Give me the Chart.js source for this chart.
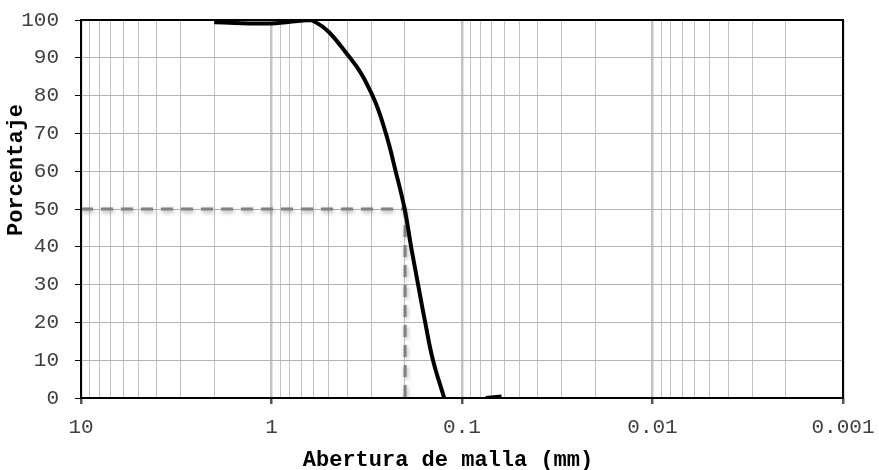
<!DOCTYPE html>
<html>
<head>
<meta charset="utf-8">
<script src="https://cdn.jsdelivr.net/npm/chart.js@4/dist/chart.umd.min.js"></script>
<style>
  body { margin: 0; background: #fff; }
  canvas { display: block; }
</style>
</head>
<body>
<canvas id="granulometria" width="879" height="470"></canvas>
<script>
// abertura de malla (mm) y porcentaje que pasa
const aberturas = [2.0, 1.0, 0.62, 0.387, 0.295, 0.251, 0.223, 0.200, 0.185, 0.170, 0.156, 0.142, 0.124];
const pasa = [99.4, 99.1, 100, 90, 80, 70, 60, 50, 40, 30, 20, 10, 0];

// tramo final cerca de cero
const aberturasFinos = [0.075, 0.062];
const pasaFinos = [0, 0.4];

// D50
const d50 = 0.199;
const porcentajeD50 = 50;

const xTickValues = [10, 1, 0.1, 0.01, 0.001];
const xTickLabels = ['10', '1', '0.1', '0.01', '0.001'];
const yTickLabels = ['0', '10', '20', '30', '40', '50', '60', '70', '80', '90', '100'];

const fontFamily = '"Liberation Mono", "Courier New", monospace';

function isDecade(v) {
  return xTickValues.some(d => Math.abs(v - d) / d < 1e-6);
}

// lineas de grilla: 1..9 por cada decada
const gridValues = [];
for (let e = -3; e <= 1; e++) {
  for (let m = 1; m <= 9; m++) {
    const v = m * Math.pow(10, e);
    if (v <= 10 + 1e-9) gridValues.push(Number(v.toPrecision(6)));
  }
}

const curva = aberturas.map((x, i) => ({ x: x, y: pasa[i] }));
curva.push({ x: 0.1, y: null });
aberturasFinos.forEach((x, i) => curva.push({ x: x, y: pasaFinos[i] }));

const lineaD50 = [
  { x: 10, y: porcentajeD50 },
  { x: d50, y: porcentajeD50 },
  { x: d50, y: 0 }
];

// marco negro, sombra de la linea D50 y titulos de ejes
const marcoYTitulos = {
  id: 'marcoYTitulos',
  beforeDatasetDraw(chart, args) {
    if (args.index === 1) {
      const ctx = chart.ctx;
      ctx.save();
      ctx.shadowColor = 'rgba(110,110,110,0.6)';
      ctx.shadowBlur = 4;
      ctx.shadowOffsetX = 1;
      ctx.shadowOffsetY = 2;
    }
  },
  afterDatasetDraw(chart, args) {
    if (args.index === 1) chart.ctx.restore();
  },
  afterDraw(chart) {
    const { ctx, chartArea: a } = chart;
    ctx.save();
    ctx.strokeStyle = '#000';
    ctx.lineWidth = 2;
    ctx.strokeRect(a.left, a.top, a.right - a.left, a.bottom - a.top);

    ctx.fillStyle = '#000';
    ctx.font = 'bold 22px ' + fontFamily;
    ctx.textAlign = 'center';
    ctx.textBaseline = 'middle';
    ctx.fillText('Abertura de malla (mm)', 448, 460);

    ctx.translate(16, 170);
    ctx.rotate(-Math.PI / 2);
    ctx.fillText('Porcentaje', 0, 0);
    ctx.restore();
  }
};

new Chart(document.getElementById('granulometria'), {
  type: 'line',
  data: {
    datasets: [
      {
        data: curva,
        borderColor: '#000',
        borderWidth: 4,
        pointRadius: 0,
        tension: 0.4,
        spanGaps: false
      },
      {
        data: lineaD50,
        borderColor: '#808080',
        borderWidth: 3,
        borderDash: [12, 8],
        pointRadius: 0,
        tension: 0
      }
    ]
  },
  options: {
    responsive: false,
    animation: false,
    layout: { padding: { top: 20, right: 36, left: 0, bottom: 0 } },
    plugins: {
      legend: { display: false },
      tooltip: { enabled: false }
    },
    scales: {
      x: {
        type: 'logarithmic',
        reverse: true,
        min: 0.001,
        max: 10,
        afterBuildTicks(scale) {
          scale.ticks = gridValues.map(v => ({ value: v }));
        },
        afterFit(scale) { scale.height = 72; },
        border: { display: false },
        grid: {
          color: ctx => isDecade(ctx.tick.value) ? '#c4c4c4' : '#c2c2c2',
          lineWidth: ctx => isDecade(ctx.tick.value) ? 2.5 : 1,
          tickColor: ctx => isDecade(ctx.tick.value) ? '#555' : 'rgba(0,0,0,0)',
          tickLength: 6,
          drawTicks: true
        },
        ticks: {
          autoSkip: false,
          maxRotation: 0,
          padding: 11,
          color: '#404040',
          font: { family: fontFamily, size: 21 },
          callback(value) {
            const i = xTickValues.findIndex(d => Math.abs(value - d) / d < 1e-6);
            return i >= 0 ? xTickLabels[i] : '';
          }
        }
      },
      y: {
        min: 0,
        max: 100,
        afterFit(scale) {
          scale.width = 81;
          scale.paddingTop = 0;
        },
        border: { display: false },
        grid: {
          color: '#b4b4b4',
          lineWidth: 1,
          tickColor: '#000',
          tickLength: 6
        },
        ticks: {
          stepSize: 10,
          padding: 16,
          color: '#404040',
          font: { family: fontFamily, size: 21 },
          callback(value) {
            return yTickLabels[Math.round(value / 10)];
          }
        }
      }
    }
  },
  plugins: [marcoYTitulos]
});
</script>
</body>
</html>
